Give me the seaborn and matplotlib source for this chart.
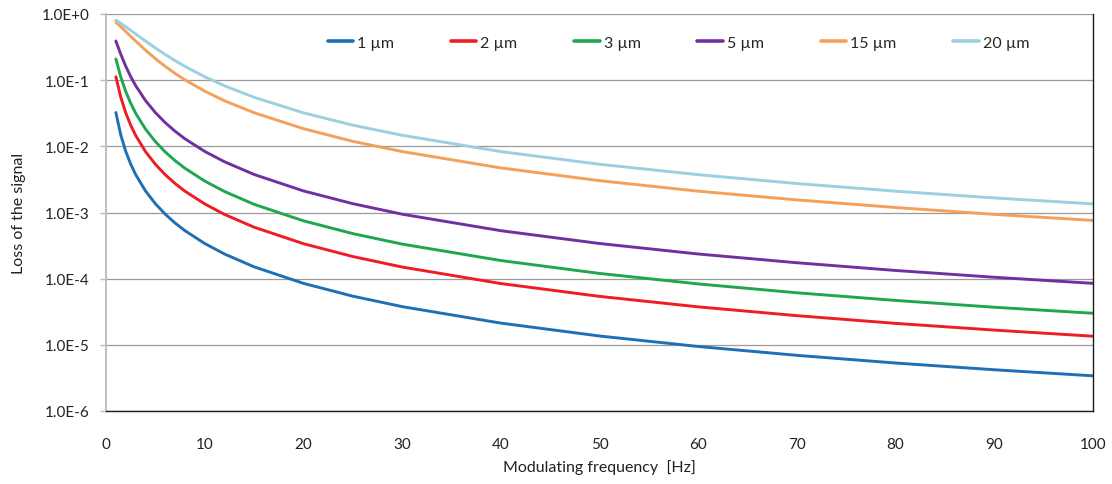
import matplotlib
matplotlib.use("Agg")
import matplotlib.pyplot as plt
import seaborn as sns
import pandas as pd

# ---- data ----
freq = [1, 1.5, 2, 2.5, 3, 4, 5, 6, 7, 8, 10, 12, 15, 20, 25, 30, 40, 50, 60, 70, 80, 90, 100]

loss_1um = [0.0324, 0.0148, 0.00839, 0.0054, 0.00376, 0.00212, 0.00136, 0.000943, 0.000693, 0.000531,
            0.00034, 0.000236, 0.000151, 8.5e-5, 5.44e-5, 3.78e-5, 2.13e-5, 1.36e-5, 9.44e-6, 6.94e-6,
            5.31e-6, 4.2e-6, 3.4e-6]
loss_2um = [0.1126, 0.0551, 0.0321, 0.0209, 0.01467, 0.00833, 0.00536, 0.00373, 0.00274, 0.0021,
            0.00135, 0.000936, 0.0006, 0.000338, 0.000216, 0.00015, 8.44e-5, 5.4e-5, 3.75e-5, 2.76e-5,
            2.11e-5, 1.67e-5, 1.35e-5]
loss_3um = [0.2094, 0.1115, 0.0675, 0.0448, 0.03175, 0.01824, 0.01179, 0.00823, 0.00607, 0.00466,
            0.00299, 0.00208, 0.00133, 0.000749, 0.00048, 0.000333, 0.000188, 0.00012, 8.33e-5, 6.12e-5,
            4.69e-5, 3.7e-5, 3.0e-5]
loss_5um = [0.3914, 0.2453, 0.1623, 0.1133, 0.0829, 0.0492, 0.0324, 0.0228, 0.0169, 0.013,
            0.00839, 0.00585, 0.00376, 0.00212, 0.00136, 0.000943, 0.000531, 0.00034, 0.000236, 0.000174,
            0.000133, 0.000105, 8.5e-5]
loss_15um = [0.7515, 0.6409, 0.5436, 0.4602, 0.3902, 0.2839, 0.2114, 0.1615, 0.1264, 0.1011,
             0.0683, 0.0489, 0.0322, 0.0185, 0.0119, 0.00834, 0.00472, 0.00303, 0.0021, 0.00155,
             0.00119, 0.000937, 0.000759]
loss_20um = [0.811, 0.7227, 0.6408, 0.5664, 0.5, 0.39, 0.3066, 0.2441, 0.197, 0.1614,
             0.1126, 0.0823, 0.0551, 0.0321, 0.0209, 0.0147, 0.00833, 0.00536, 0.00373, 0.00274,
             0.0021, 0.00166, 0.00135]

series_labels = ["1 µm", "2 µm", "3 µm", "5 µm", "15 µm", "20 µm"]
series_values = [loss_1um, loss_2um, loss_3um, loss_5um, loss_15um, loss_20um]
colors = ["#1F6FB4", "#EE1C24", "#1FA64F", "#7030A0", "#F5A05A", "#9CCFE0"]

y_ticks = [1e0, 1e-1, 1e-2, 1e-3, 1e-4, 1e-5, 1e-6]
y_tick_labels = ["1.0E+0", "1.0E-1", "1.0E-2", "1.0E-3", "1.0E-4", "1.0E-5", "1.0E-6"]
x_ticks = [0, 10, 20, 30, 40, 50, 60, 70, 80, 90, 100]

# ---- build long-form table ----
rows = []
for lab, vals in zip(series_labels, series_values):
    for f, v in zip(freq, vals):
        rows.append({"freq": f, "loss": v, "size": lab})
df = pd.DataFrame(rows)

sns.set_style("white")
plt.rcParams["font.family"] = ["Lato", "DejaVu Sans"]

fig = plt.figure(figsize=(11.12, 4.85), dpi=100)
ax = fig.add_axes([106 / 1112, 1 - 412 / 485, 987 / 1112, 397 / 485])

sns.lineplot(data=df, x="freq", y="loss", hue="size", hue_order=series_labels,
             palette=colors, linewidth=2.1, ax=ax, legend=True, sort=False)

ax.set_yscale("log")
ax.set_ylim(1e-6, 1e0)
ax.set_xlim(0, 100)
ax.set_yticks(y_ticks)
ax.set_yticklabels(y_tick_labels)
ax.yaxis.set_minor_locator(matplotlib.ticker.NullLocator())
ax.set_xticks(x_ticks)
ax.set_xticklabels([str(t) for t in x_ticks])

ax.grid(axis="y", color="#9A9A9A", linewidth=0.9)
ax.grid(axis="x", visible=False)
ax.set_axisbelow(True)

ax.spines["top"].set_visible(False)
ax.spines["left"].set_color("#BEBEBE")
ax.spines["left"].set_linewidth(1.4)
ax.spines["bottom"].set_color("#1A1A1A")
ax.spines["bottom"].set_linewidth(1.0)
ax.spines["right"].set_color("#1A1A1A")
ax.spines["right"].set_linewidth(1.0)

ax.tick_params(axis="y", which="major", length=4, width=1, color="#BEBEBE",
               direction="out", pad=8, labelsize=11, labelcolor="#222222", left=True)
ax.tick_params(axis="x", which="major", length=0, pad=19, labelsize=11, labelcolor="#222222")

ax.set_xlabel("Modulating frequency  [Hz]", fontsize=11.5, color="#222222")
ax.set_ylabel("Loss of the signal", fontsize=11.5, color="#222222")
ax.xaxis.set_label_coords(0.5, -0.12)
ax.yaxis.set_label_coords(-0.081, 0.5)

handles, labels = ax.get_legend_handles_labels()
leg = ax.legend(handles, labels, ncol=6, loc="center", bbox_to_anchor=(0.58, 0.927),
                frameon=False, fontsize=11.5, handlelength=1.6, handletextpad=0.25,
                columnspacing=3.55, borderaxespad=0)
for line in leg.get_lines():
    line.set_linewidth(2.6)

fig.savefig("out.png", dpi=100)
